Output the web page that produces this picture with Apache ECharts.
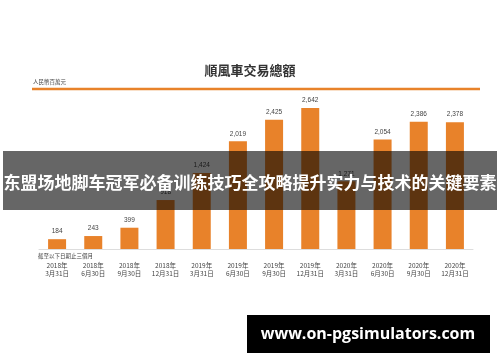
<!DOCTYPE html>
<html><head><meta charset="utf-8">
<script src="https://cdn.jsdelivr.net/npm/echarts@6/dist/echarts.min.js"></script>
<style>html,body{margin:0;padding:0;background:#fff}#c{width:500px;height:362px}</style>
</head><body><div id="c"></div>
<script>
var categories = ['2018年\n3月31日','2018年\n6月30日','2018年\n9月30日','2018年\n12月31日','2019年\n3月31日','2019年\n6月30日','2019年\n9月30日','2019年\n12月31日','2020年\n3月31日','2020年\n6月30日','2020年\n9月30日','2020年\n12月31日'];
var values = [184, 243, 399, 918, 1424, 2019, 2425, 2642, 1271, 2054, 2386, 2378];
var titleText = '順風車交易總額';
var unitText = '人民幣百萬元';
var noteText = '截至以下日期止三個月';
var bannerText = '东盟场地脚车冠军必备训练技巧全攻略提升实力与技术的关键要素';
var siteText = 'www.on-pgsimulators.com';

var chart = echarts.init(document.getElementById('c'), null, {renderer:'canvas'});
chart.setOption({
  animation:false,
  grid:{left:39, right:27, top:89, bottom:113},
  xAxis:{type:'category', data:categories,
    axisLine:{lineStyle:{color:'#dddddd', width:1}},
    axisTick:{show:false},
    axisLabel:{fontSize:6.5, color:'#444', lineHeight:8, margin:13, fontFamily:'Noto Sans CJK TC', interval:0}},
  yAxis:{type:'value', min:0, max:3000, show:false, splitLine:{show:false}},
  series:[{type:'bar', data:values, barWidth:18,
    itemStyle:{color:'#E8822A'},
    label:{show:true, position:'top', distance:4, fontSize:6.5, color:'#444', fontFamily:'Liberation Sans',
      formatter:function(p){return p.value.toLocaleString('en-US');}}}],
  graphic:[
    {type:'text', left:'center', top:64, style:{text:titleText, fontSize:13, fontWeight:'bold', fill:'#333', fontFamily:'Noto Sans CJK TC'}},
    {type:'text', left:33, top:79, style:{text:unitText, fontSize:5.5, fill:'#444', fontFamily:'Noto Sans CJK TC'}},
    {type:'line', shape:{x1:32, y1:89, x2:480, y2:89}, style:{stroke:'#E8822A', lineWidth:2.5}},
    {type:'text', left:38, top:253, style:{text:noteText, fontSize:5.5, fill:'#444', fontFamily:'Noto Sans CJK TC'}},
    {type:'rect', z:100, shape:{x:3, y:151, width:494, height:59}, style:{fill:'rgba(0,0,0,0.6)'}},
    {type:'text', z:101, x:250, y:183, style:{text:bannerText, fontSize:17, fontWeight:'bold', fill:'#fff', align:'center', verticalAlign:'middle', fontFamily:'Noto Sans CJK SC'}},
    {type:'rect', z:100, shape:{x:247, y:315, width:243, height:38}, style:{fill:'#000'}},
    {type:'text', z:101, x:368, y:334, style:{text:siteText, fontSize:16, fontWeight:'bold', fill:'#fff', align:'center', verticalAlign:'middle', fontFamily:'Open Sans'}}
  ]
});
</script></body></html>
